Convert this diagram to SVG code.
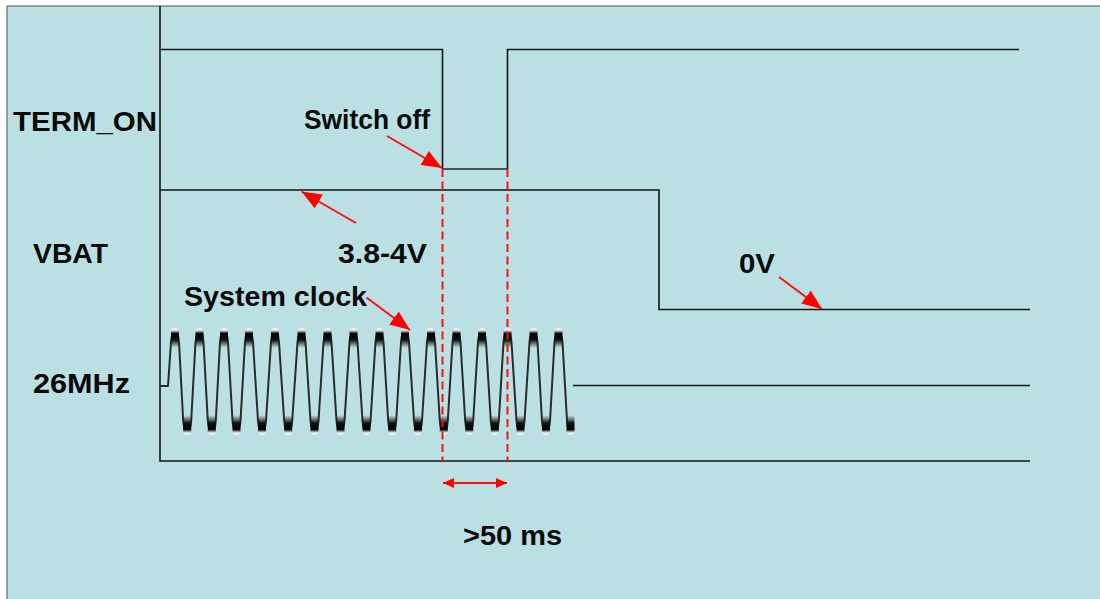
<svg xmlns="http://www.w3.org/2000/svg" width="1100" height="599" viewBox="0 0 1100 599">
<style>
.lbl{font-family:"Liberation Sans",Arial,sans-serif;font-weight:bold;font-size:28px;fill:#0a0a0a}
.sig{fill:none;stroke:#151515;stroke-width:1.6}
.red{fill:none;stroke:#ff1010;stroke-width:2}
.dash{fill:none;stroke:#ff1010;stroke-width:2;stroke-dasharray:8 4.5}
.wave{fill:none;stroke:#2a2a2a;stroke-width:2;stroke-linejoin:round}
</style>
<defs>
<marker id="ah" markerUnits="userSpaceOnUse" viewBox="0 0 20 16" markerWidth="20" markerHeight="16" refX="20" refY="8" orient="auto">
<path d="M0,0 L20,8 L0,16 z" fill="#ff0000"/>
</marker>
<marker id="sh" markerUnits="userSpaceOnUse" viewBox="0 0 11 10" markerWidth="11" markerHeight="10" refX="11" refY="5" orient="auto-start-reverse">
<path d="M0,0 L11,5 L0,10 z" fill="#ff0000"/>
</marker>
<linearGradient id="gp" x1="0" y1="0" x2="0" y2="1">
<stop offset="0" stop-color="#ffffff" stop-opacity="0.7"/>
<stop offset="0.12" stop-color="#e0e0e0"/>
<stop offset="0.28" stop-color="#000000"/>
<stop offset="0.6" stop-color="#111111"/>
<stop offset="1" stop-color="#333333" stop-opacity="0"/>
</linearGradient>
<linearGradient id="gt" x1="0" y1="1" x2="0" y2="0">
<stop offset="0" stop-color="#ffffff" stop-opacity="0.7"/>
<stop offset="0.12" stop-color="#e0e0e0"/>
<stop offset="0.28" stop-color="#000000"/>
<stop offset="0.6" stop-color="#111111"/>
<stop offset="1" stop-color="#333333" stop-opacity="0"/>
</linearGradient>
<rect id="pk" x="-4" y="328" width="8" height="20" rx="3.5" fill="url(#gp)"/>
<rect id="tr" x="-4" y="415" width="8" height="20" rx="3.5" fill="url(#gt)"/>
</defs>

<rect x="0" y="0" width="1100" height="599" fill="#ffffff"/>
<rect x="7" y="6" width="1100" height="600" fill="#bae0e3" stroke="#555" stroke-width="1"/>

<g id="frame">
<path class="sig" d="M160,6 V461 H1030"/>
</g>

<g id="term_on">
<path class="sig" d="M160,49.5 H442.5 V169"/>
<path d="M442.5,169 H507.5" fill="none" stroke="#4a5656" stroke-width="2"/>
<path class="sig" d="M507.5,169 V49.5 H1019"/>
<text class="lbl" x="13" y="131" textLength="144" lengthAdjust="spacingAndGlyphs">TERM_ON</text>
</g>

<g id="vbat">
<path class="sig" d="M160,190 H659 V309.5 H1030"/>
<text class="lbl" x="33" y="263" textLength="75" lengthAdjust="spacingAndGlyphs">VBAT</text>
</g>

<g id="clock">
<path class="wave" d="M160,386 H168 L171,342 C172,329 178,329 179,342 L183.2,421 C184.2,434 190.2,434 191.2,421 L195.5,342 C196.5,329 202.5,329 203.5,342 L207.8,421 C208.8,434 214.8,434 215.8,421 L220,342 C221,329 227,329 228,342 L232.5,421 C233.5,434 239.5,434 240.5,421 L245,342 C246,329 252,329 253,342 L258,421 C259,434 265,434 266,421 L271,342 C272,329 278,329 279,342 L284.2,421 C285.2,434 291.2,434 292.2,421 L297.5,342 C298.5,329 304.5,329 305.5,342 L310.5,421 C311.5,434 317.5,434 318.5,421 L323.5,342 C324.5,329 330.5,329 331.5,342 L336.5,421 C337.5,434 343.5,434 344.5,421 L349.5,342 C350.5,329 356.5,329 357.5,342 L362.5,421 C363.5,434 369.5,434 370.5,421 L375.5,342 C376.5,329 382.5,329 383.5,342 L388.2,421 C389.2,434 395.2,434 396.2,421 L401,342 C402,329 408,329 409,342 L414,421 C415,434 421,434 422,421 L427,342 C428,329 434,329 435,342 L439.8,421 C440.8,434 446.8,434 447.8,421 L452.5,342 C453.5,329 459.5,329 460.5,342 L465.2,421 C466.2,434 472.2,434 473.2,421 L478,342 C479,329 485,329 486,342 L490.8,421 C491.8,434 497.8,434 498.8,421 L503.5,342 C504.5,329 510.5,329 511.5,342 L516.5,421 C517.5,434 523.5,434 524.5,421 L529.5,342 C530.5,329 536.5,329 537.5,342 L542,421 C543,434 549,434 550,421 L554.5,342 C555.5,329 561.5,329 562.5,342 L567,421 C568,434 572,434 573,428"/>
<use href="#pk" x="175"/><use href="#pk" x="199.5"/><use href="#pk" x="224"/><use href="#pk" x="249"/>
<use href="#pk" x="275"/><use href="#pk" x="301.5"/><use href="#pk" x="327.5"/><use href="#pk" x="353.5"/>
<use href="#pk" x="379.5"/><use href="#pk" x="405"/><use href="#pk" x="431"/><use href="#pk" x="456.5"/>
<use href="#pk" x="482"/><use href="#pk" x="507.5"/><use href="#pk" x="533.5"/><use href="#pk" x="558.5"/>
<use href="#tr" x="187.2"/><use href="#tr" x="211.8"/><use href="#tr" x="236.5"/><use href="#tr" x="262"/>
<use href="#tr" x="288.2"/><use href="#tr" x="314.5"/><use href="#tr" x="340.5"/><use href="#tr" x="366.5"/>
<use href="#tr" x="392.2"/><use href="#tr" x="418"/><use href="#tr" x="443.8"/><use href="#tr" x="469.2"/>
<use href="#tr" x="494.8"/><use href="#tr" x="520.5"/><use href="#tr" x="546"/><use href="#tr" x="570.5"/>
<path class="sig" d="M573,385.5 H1030"/>
<text class="lbl" x="33" y="393" textLength="97" lengthAdjust="spacingAndGlyphs">26MHz</text>
</g>

<g id="annotations">
<text class="lbl" x="304" y="129" textLength="126" lengthAdjust="spacingAndGlyphs">Switch off</text>
<text class="lbl" x="338" y="263" textLength="89" lengthAdjust="spacingAndGlyphs">3.8-4V</text>
<text class="lbl" x="184" y="306" textLength="183" lengthAdjust="spacingAndGlyphs">System clock</text>
<text class="lbl" x="739" y="273" textLength="36" lengthAdjust="spacingAndGlyphs">0V</text>
<text class="lbl" x="463" y="545" textLength="99" lengthAdjust="spacingAndGlyphs">&gt;50 ms</text>
</g>

<g id="connectors">
<path class="dash" d="M442.5,169 V461"/>
<path class="dash" d="M507.5,169 V461"/>
<path class="red" d="M387,136 L442,168" marker-end="url(#ah)"/>
<path class="red" d="M356,223 L301.5,191.5" marker-end="url(#ah)"/>
<path class="red" d="M366.5,297.5 L410,330" marker-end="url(#ah)"/>
<path class="red" d="M779,277 L822,309" marker-end="url(#ah)"/>
<path class="red" d="M443,483 L507,483" marker-start="url(#sh)" marker-end="url(#sh)"/>
</g>
</svg>
